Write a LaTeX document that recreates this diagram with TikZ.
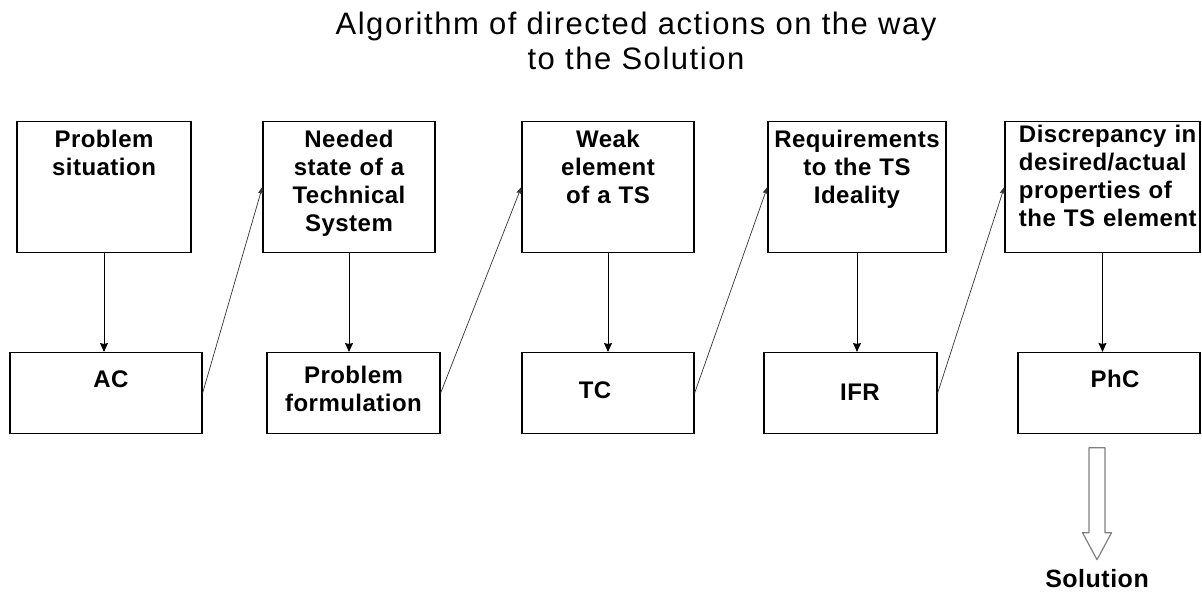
\documentclass[tikz,border=0pt]{standalone}
\usepackage{fontspec}
\setmainfont{Liberation Sans}
\newfontfamily\titlefont[LetterSpace=5]{Liberation Sans}
\newfontfamily\cellfont[LetterSpace=2]{Liberation Sans}
\usetikzlibrary{matrix,arrows.meta}
\hyphenpenalty=10000
\exhyphenpenalty=10000

\tikzset{
  stage/.style={draw, line width=1.2pt, align=center, inner xsep=0pt, inner ysep=0pt,
    font=\cellfont\bfseries\fontsize{24}{28}\selectfont},
  upper/.style={stage, text width=#1, text height=26pt, text depth=105pt},
  lower/.style={stage, text width=#1, text height=35pt, text depth=46pt},
  hollow/.style={draw=gray, line width=1.2pt, line join=round}
}

\begin{document}
\begin{tikzpicture}[x=1pt,y=-1pt]
\useasboundingbox (0,0) rectangle (1202,596);
\node[font=\titlefont\fontsize{31}{35}\selectfont, align=center, anchor=north, inner sep=0pt] (title) at (636,12)
  {Algorithm of directed actions on the way\\to the Solution};
\matrix (alg) at (605,277.5) [matrix of nodes, row sep=99pt, column sep=57.8pt, nodes={anchor=center}, ampersand replacement=\&]
{
  |[upper=174pt]| {Problem\\situation} \&[2pt]
  |[upper=172pt]| {Needed\\state of a\\Technical\\System} \&[23pt]
  |[upper=172pt]| {Weak\\element\\of a TS} \&[11pt]
  |[upper=178pt]| {Requirements\\to the TS\\Ideality} \&
  |[upper=167pt, align=left, inner xsep=14pt, text height=21pt, text depth=110pt]| {Discrepancy~in\\desired/actual\\properties~of\\the~TS~element} \\
  |[lower=192pt, xshift=2pt]| {\hspace*{10pt}AC} \&
  |[lower=173pt, xshift=4.5pt, text height=31pt, text depth=50pt]| {Problem\\formulation} \&
  |[lower=172pt, text height=46pt, text depth=35pt]| {TC\hspace*{26pt}} \&
  |[lower=173pt, xshift=-6.5pt, text height=48pt, text depth=33pt]| {\hspace*{19pt}IFR} \&
  |[lower=182pt, xshift=6.5pt]| {\hspace*{12pt}PhC} \\
};
\path[line width=1pt, -{Stealth[length=9pt, width=8pt, inset=1pt]}]
  (alg-1-1) edge (alg-1-1 |- alg-2-1.north)
  (alg-1-2) edge (alg-1-2 |- alg-2-2.north)
  (alg-1-3) edge (alg-1-3 |- alg-2-3.north)
  (alg-1-4) edge (alg-1-4 |- alg-2-4.north)
  (alg-1-5) edge (alg-1-5 |- alg-2-5.north);
\path[line width=0.7pt, black!80, -{Stealth[length=7pt, width=5pt, inset=1pt]}]
  (alg-2-1.east) edge (alg-1-2.west)
  (alg-2-2.east) edge (alg-1-3.west)
  (alg-2-3.east) edge (alg-1-4.west)
  (alg-2-4.east) edge (alg-1-5.west);
\node[font=\cellfont\bfseries\fontsize{25}{28}\selectfont, anchor=base, inner sep=0pt] (sol) at (1097,587) {Solution};
\coordinate (tip) at ([yshift=9pt]sol.north);
\draw[hollow] (tip) -- ++(-14.5,-27) -- ++(6.5,0) -- ++(0,-85) -- ++(16,0) -- ++(0,85) -- ++(6.5,0) -- cycle;
\end{tikzpicture}
\end{document}
